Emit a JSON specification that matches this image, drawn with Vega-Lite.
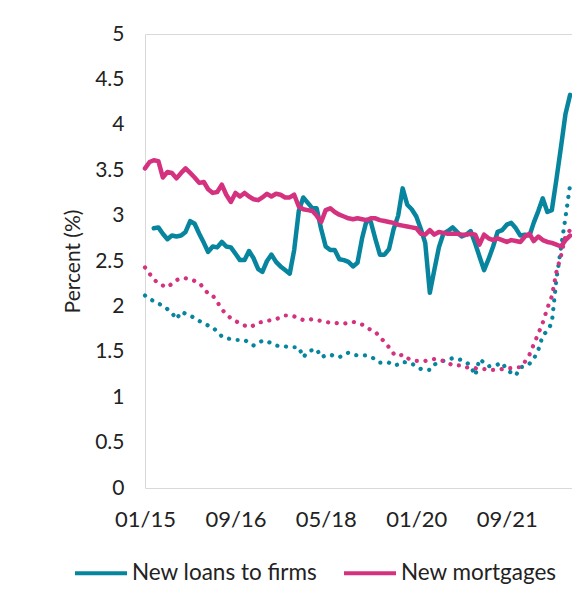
{
  "$schema": "https://vega.github.io/schema/vega-lite/v6.json",
  "width": 430,
  "height": 454,
  "autosize": {"type": "none"},
  "padding": {"left": 145, "top": 34, "right": 0, "bottom": 125},
  "background": "white",
  "config": {"font": "Lato", "view": {"stroke": "#d9d9d9", "strokeWidth": 1}},
  "datasets": {
    "firms": [
      {"date":"2015-03-01","value":2.86},{"date":"2015-04-01","value":2.87},{"date":"2015-05-01","value":2.80},{"date":"2015-06-01","value":2.74},{"date":"2015-07-01","value":2.78},{"date":"2015-08-01","value":2.77},{"date":"2015-09-01","value":2.78},{"date":"2015-10-01","value":2.82},{"date":"2015-11-01","value":2.94},{"date":"2015-12-01","value":2.91},
      {"date":"2016-01-01","value":2.80},{"date":"2016-02-01","value":2.70},{"date":"2016-03-01","value":2.60},{"date":"2016-04-01","value":2.66},{"date":"2016-05-01","value":2.65},{"date":"2016-06-01","value":2.71},{"date":"2016-07-01","value":2.66},{"date":"2016-08-01","value":2.65},{"date":"2016-09-01","value":2.58},{"date":"2016-10-01","value":2.51},{"date":"2016-11-01","value":2.51},{"date":"2016-12-01","value":2.61},
      {"date":"2017-01-01","value":2.53},{"date":"2017-02-01","value":2.41},{"date":"2017-03-01","value":2.38},{"date":"2017-04-01","value":2.50},{"date":"2017-05-01","value":2.57},{"date":"2017-06-01","value":2.49},{"date":"2017-07-01","value":2.44},{"date":"2017-08-01","value":2.40},{"date":"2017-09-01","value":2.36},{"date":"2017-10-01","value":2.62},{"date":"2017-11-01","value":3.05},{"date":"2017-12-01","value":3.20},
      {"date":"2018-01-01","value":3.14},{"date":"2018-02-01","value":3.08},{"date":"2018-03-01","value":3.08},{"date":"2018-04-01","value":2.85},{"date":"2018-05-01","value":2.66},{"date":"2018-06-01","value":2.62},{"date":"2018-07-01","value":2.62},{"date":"2018-08-01","value":2.52},{"date":"2018-09-01","value":2.51},{"date":"2018-10-01","value":2.49},{"date":"2018-11-01","value":2.44},{"date":"2018-12-01","value":2.48},
      {"date":"2019-01-01","value":2.75},{"date":"2019-02-01","value":2.95},{"date":"2019-03-01","value":2.93},{"date":"2019-04-01","value":2.74},{"date":"2019-05-01","value":2.57},{"date":"2019-06-01","value":2.57},{"date":"2019-07-01","value":2.63},{"date":"2019-08-01","value":2.85},{"date":"2019-09-01","value":3.00},{"date":"2019-10-01","value":3.30},{"date":"2019-11-01","value":3.12},{"date":"2019-12-01","value":3.07},
      {"date":"2020-01-01","value":2.99},{"date":"2020-02-01","value":2.85},{"date":"2020-03-01","value":2.70},{"date":"2020-04-01","value":2.15},{"date":"2020-05-01","value":2.40},{"date":"2020-06-01","value":2.65},{"date":"2020-07-01","value":2.80},{"date":"2020-08-01","value":2.83},{"date":"2020-09-01","value":2.87},{"date":"2020-10-01","value":2.82},{"date":"2020-11-01","value":2.77},{"date":"2020-12-01","value":2.79},
      {"date":"2021-01-01","value":2.83},{"date":"2021-02-01","value":2.69},{"date":"2021-03-01","value":2.55},{"date":"2021-04-01","value":2.40},{"date":"2021-05-01","value":2.52},{"date":"2021-06-01","value":2.66},{"date":"2021-07-01","value":2.82},{"date":"2021-08-01","value":2.84},{"date":"2021-09-01","value":2.90},{"date":"2021-10-01","value":2.92},{"date":"2021-11-01","value":2.86},{"date":"2021-12-01","value":2.78},
      {"date":"2022-01-01","value":2.79},{"date":"2022-02-01","value":2.78},{"date":"2022-03-01","value":2.92},{"date":"2022-04-01","value":3.05},{"date":"2022-05-01","value":3.19},{"date":"2022-06-01","value":3.04},{"date":"2022-07-01","value":3.06},{"date":"2022-08-01","value":3.40},{"date":"2022-09-01","value":3.76},{"date":"2022-10-01","value":4.12},{"date":"2022-11-01","value":4.33}
    ],
    "mortgages": [
      {"date":"2015-01-01","value":3.52},{"date":"2015-02-01","value":3.59},{"date":"2015-03-01","value":3.61},{"date":"2015-04-01","value":3.60},{"date":"2015-05-01","value":3.42},{"date":"2015-06-01","value":3.48},{"date":"2015-07-01","value":3.47},{"date":"2015-08-01","value":3.41},{"date":"2015-09-01","value":3.47},{"date":"2015-10-01","value":3.52},{"date":"2015-11-01","value":3.47},{"date":"2015-12-01","value":3.42},
      {"date":"2016-01-01","value":3.36},{"date":"2016-02-01","value":3.37},{"date":"2016-03-01","value":3.29},{"date":"2016-04-01","value":3.25},{"date":"2016-05-01","value":3.26},{"date":"2016-06-01","value":3.34},{"date":"2016-07-01","value":3.23},{"date":"2016-08-01","value":3.15},{"date":"2016-09-01","value":3.25},{"date":"2016-10-01","value":3.21},{"date":"2016-11-01","value":3.25},{"date":"2016-12-01","value":3.21},
      {"date":"2017-01-01","value":3.18},{"date":"2017-02-01","value":3.17},{"date":"2017-03-01","value":3.20},{"date":"2017-04-01","value":3.24},{"date":"2017-05-01","value":3.21},{"date":"2017-06-01","value":3.24},{"date":"2017-07-01","value":3.23},{"date":"2017-08-01","value":3.20},{"date":"2017-09-01","value":3.20},{"date":"2017-10-01","value":3.23},{"date":"2017-11-01","value":3.10},{"date":"2017-12-01","value":3.07},
      {"date":"2018-01-01","value":3.06},{"date":"2018-02-01","value":3.05},{"date":"2018-03-01","value":3.00},{"date":"2018-04-01","value":2.93},{"date":"2018-05-01","value":3.06},{"date":"2018-06-01","value":3.08},{"date":"2018-07-01","value":3.04},{"date":"2018-08-01","value":3.01},{"date":"2018-09-01","value":2.99},{"date":"2018-10-01","value":2.97},{"date":"2018-11-01","value":2.96},{"date":"2018-12-01","value":2.97},
      {"date":"2019-01-01","value":2.96},{"date":"2019-02-01","value":2.95},{"date":"2019-03-01","value":2.97},{"date":"2019-04-01","value":2.97},{"date":"2019-05-01","value":2.95},{"date":"2019-06-01","value":2.94},{"date":"2019-07-01","value":2.93},{"date":"2019-08-01","value":2.92},{"date":"2019-09-01","value":2.90},{"date":"2019-10-01","value":2.89},{"date":"2019-11-01","value":2.88},{"date":"2019-12-01","value":2.87},
      {"date":"2020-01-01","value":2.86},{"date":"2020-02-01","value":2.80},{"date":"2020-03-01","value":2.79},{"date":"2020-04-01","value":2.84},{"date":"2020-05-01","value":2.79},{"date":"2020-06-01","value":2.82},{"date":"2020-07-01","value":2.81},{"date":"2020-08-01","value":2.80},{"date":"2020-09-01","value":2.80},{"date":"2020-10-01","value":2.80},{"date":"2020-11-01","value":2.79},{"date":"2020-12-01","value":2.79},
      {"date":"2021-01-01","value":2.80},{"date":"2021-02-01","value":2.79},{"date":"2021-03-01","value":2.68},{"date":"2021-04-01","value":2.79},{"date":"2021-05-01","value":2.75},{"date":"2021-06-01","value":2.73},{"date":"2021-07-01","value":2.75},{"date":"2021-08-01","value":2.73},{"date":"2021-09-01","value":2.71},{"date":"2021-10-01","value":2.73},{"date":"2021-11-01","value":2.72},{"date":"2021-12-01","value":2.71},
      {"date":"2022-01-01","value":2.77},{"date":"2022-02-01","value":2.80},{"date":"2022-03-01","value":2.72},{"date":"2022-04-01","value":2.77},{"date":"2022-05-01","value":2.73},{"date":"2022-06-01","value":2.71},{"date":"2022-07-01","value":2.70},{"date":"2022-08-01","value":2.68},{"date":"2022-09-01","value":2.66},{"date":"2022-10-01","value":2.73},{"date":"2022-11-01","value":2.78}
    ],
    "firms_dotted": [
      {"date":"2015-01-01","value":2.12},{"date":"2015-02-01","value":2.08},{"date":"2015-03-01","value":2.06},{"date":"2015-04-01","value":2.03},{"date":"2015-05-01","value":2.01},{"date":"2015-06-01","value":1.97},{"date":"2015-07-01","value":1.93},{"date":"2015-08-01","value":1.86},{"date":"2015-09-01","value":1.94},{"date":"2015-10-01","value":1.92},{"date":"2015-11-01","value":1.90},{"date":"2015-12-01","value":1.87},
      {"date":"2016-01-01","value":1.84},{"date":"2016-02-01","value":1.81},{"date":"2016-03-01","value":1.79},{"date":"2016-04-01","value":1.77},{"date":"2016-05-01","value":1.72},{"date":"2016-06-01","value":1.67},{"date":"2016-07-01","value":1.65},{"date":"2016-08-01","value":1.64},{"date":"2016-09-01","value":1.63},{"date":"2016-10-01","value":1.63},{"date":"2016-11-01","value":1.63},{"date":"2016-12-01","value":1.60},
      {"date":"2017-01-01","value":1.57},{"date":"2017-02-01","value":1.60},{"date":"2017-03-01","value":1.62},{"date":"2017-04-01","value":1.62},{"date":"2017-05-01","value":1.59},{"date":"2017-06-01","value":1.57},{"date":"2017-07-01","value":1.56},{"date":"2017-08-01","value":1.56},{"date":"2017-09-01","value":1.55},{"date":"2017-10-01","value":1.55},{"date":"2017-11-01","value":1.55},{"date":"2017-12-01","value":1.44},
      {"date":"2018-01-01","value":1.50},{"date":"2018-02-01","value":1.52},{"date":"2018-03-01","value":1.53},{"date":"2018-04-01","value":1.44},{"date":"2018-05-01","value":1.46},{"date":"2018-06-01","value":1.47},{"date":"2018-07-01","value":1.45},{"date":"2018-08-01","value":1.44},{"date":"2018-09-01","value":1.47},{"date":"2018-10-01","value":1.49},{"date":"2018-11-01","value":1.47},{"date":"2018-12-01","value":1.46},
      {"date":"2019-01-01","value":1.46},{"date":"2019-02-01","value":1.46},{"date":"2019-03-01","value":1.44},{"date":"2019-04-01","value":1.42},{"date":"2019-05-01","value":1.38},{"date":"2019-06-01","value":1.38},{"date":"2019-07-01","value":1.38},{"date":"2019-08-01","value":1.35},{"date":"2019-09-01","value":1.36},{"date":"2019-10-01","value":1.39},{"date":"2019-11-01","value":1.38},{"date":"2019-12-01","value":1.37},
      {"date":"2020-01-01","value":1.34},{"date":"2020-02-01","value":1.31},{"date":"2020-03-01","value":1.31},{"date":"2020-04-01","value":1.30},{"date":"2020-05-01","value":1.36},{"date":"2020-06-01","value":1.38},{"date":"2020-07-01","value":1.40},{"date":"2020-08-01","value":1.41},{"date":"2020-09-01","value":1.43},{"date":"2020-10-01","value":1.42},{"date":"2020-11-01","value":1.41},{"date":"2020-12-01","value":1.39},
      {"date":"2021-01-01","value":1.34},{"date":"2021-02-01","value":1.24},{"date":"2021-03-01","value":1.42},{"date":"2021-04-01","value":1.38},{"date":"2021-05-01","value":1.34},{"date":"2021-06-01","value":1.35},{"date":"2021-07-01","value":1.36},{"date":"2021-08-01","value":1.38},{"date":"2021-09-01","value":1.30},{"date":"2021-10-01","value":1.27},{"date":"2021-11-01","value":1.24},{"date":"2021-12-01","value":1.33},
      {"date":"2022-01-01","value":1.34},{"date":"2022-02-01","value":1.37},{"date":"2022-03-01","value":1.42},{"date":"2022-04-01","value":1.52},{"date":"2022-05-01","value":1.68},{"date":"2022-06-01","value":1.73},{"date":"2022-07-01","value":1.82},{"date":"2022-08-01","value":2.30},{"date":"2022-09-01","value":2.65},{"date":"2022-10-01","value":2.98},{"date":"2022-11-01","value":3.34}
    ],
    "mortgages_dotted": [
      {"date":"2015-01-01","value":2.43},{"date":"2015-02-01","value":2.36},{"date":"2015-03-01","value":2.30},{"date":"2015-04-01","value":2.25},{"date":"2015-05-01","value":2.23},{"date":"2015-06-01","value":2.21},{"date":"2015-07-01","value":2.25},{"date":"2015-08-01","value":2.29},{"date":"2015-09-01","value":2.31},{"date":"2015-10-01","value":2.31},{"date":"2015-11-01","value":2.30},{"date":"2015-12-01","value":2.28},
      {"date":"2016-01-01","value":2.26},{"date":"2016-02-01","value":2.20},{"date":"2016-03-01","value":2.14},{"date":"2016-04-01","value":2.12},{"date":"2016-05-01","value":2.05},{"date":"2016-06-01","value":1.97},{"date":"2016-07-01","value":1.91},{"date":"2016-08-01","value":1.87},{"date":"2016-09-01","value":1.84},{"date":"2016-10-01","value":1.81},{"date":"2016-11-01","value":1.79},{"date":"2016-12-01","value":1.77},
      {"date":"2017-01-01","value":1.79},{"date":"2017-02-01","value":1.82},{"date":"2017-03-01","value":1.83},{"date":"2017-04-01","value":1.84},{"date":"2017-05-01","value":1.85},{"date":"2017-06-01","value":1.86},{"date":"2017-07-01","value":1.88},{"date":"2017-08-01","value":1.90},{"date":"2017-09-01","value":1.90},{"date":"2017-10-01","value":1.89},{"date":"2017-11-01","value":1.87},{"date":"2017-12-01","value":1.85},
      {"date":"2018-01-01","value":1.85},{"date":"2018-02-01","value":1.86},{"date":"2018-03-01","value":1.85},{"date":"2018-04-01","value":1.84},{"date":"2018-05-01","value":1.83},{"date":"2018-06-01","value":1.82},{"date":"2018-07-01","value":1.82},{"date":"2018-08-01","value":1.81},{"date":"2018-09-01","value":1.81},{"date":"2018-10-01","value":1.82},{"date":"2018-11-01","value":1.83},{"date":"2018-12-01","value":1.82},
      {"date":"2019-01-01","value":1.80},{"date":"2019-02-01","value":1.77},{"date":"2019-03-01","value":1.74},{"date":"2019-04-01","value":1.72},{"date":"2019-05-01","value":1.66},{"date":"2019-06-01","value":1.61},{"date":"2019-07-01","value":1.55},{"date":"2019-08-01","value":1.48},{"date":"2019-09-01","value":1.45},{"date":"2019-10-01","value":1.47},{"date":"2019-11-01","value":1.43},{"date":"2019-12-01","value":1.41},
      {"date":"2020-01-01","value":1.40},{"date":"2020-02-01","value":1.40},{"date":"2020-03-01","value":1.40},{"date":"2020-04-01","value":1.41},{"date":"2020-05-01","value":1.42},{"date":"2020-06-01","value":1.41},{"date":"2020-07-01","value":1.40},{"date":"2020-08-01","value":1.38},{"date":"2020-09-01","value":1.35},{"date":"2020-10-01","value":1.35},{"date":"2020-11-01","value":1.35},{"date":"2020-12-01","value":1.33},
      {"date":"2021-01-01","value":1.32},{"date":"2021-02-01","value":1.32},{"date":"2021-03-01","value":1.31},{"date":"2021-04-01","value":1.31},{"date":"2021-05-01","value":1.30},{"date":"2021-06-01","value":1.30},{"date":"2021-07-01","value":1.30},{"date":"2021-08-01","value":1.31},{"date":"2021-09-01","value":1.32},{"date":"2021-10-01","value":1.32},{"date":"2021-11-01","value":1.33},{"date":"2021-12-01","value":1.33},
      {"date":"2022-01-01","value":1.39},{"date":"2022-02-01","value":1.47},{"date":"2022-03-01","value":1.58},{"date":"2022-04-01","value":1.70},{"date":"2022-05-01","value":1.82},{"date":"2022-06-01","value":1.98},{"date":"2022-07-01","value":2.11},{"date":"2022-08-01","value":2.38},{"date":"2022-09-01","value":2.56},{"date":"2022-10-01","value":2.78},{"date":"2022-11-01","value":2.84}
    ]
  },
  "encoding": {
    "x": {
      "field": "date",
      "type": "temporal",
      "scale": {"type": "utc", "domain": [{"year": 2015, "month": 1, "date": 1, "utc": true}, {"year": 2022, "month": 12, "date": 4, "utc": true}]},
      "axis": {
        "title": null,
        "values": [
          {"year": 2015, "month": 1, "date": 1, "utc": true},
          {"year": 2016, "month": 9, "date": 1, "utc": true},
          {"year": 2018, "month": 5, "date": 1, "utc": true},
          {"year": 2020, "month": 1, "date": 1, "utc": true},
          {"year": 2021, "month": 9, "date": 1, "utc": true}
        ],
        "labelExpr": "utcFormat(datum.value, '%m/%y')",
        "grid": false,
        "domain": false,
        "ticks": false,
        "labelFontSize": 22,
        "labelColor": "#222222",
        "labelPadding": 21,
        "labelFlush": false,
        "labelOverlap": false
      }
    },
    "y": {
      "field": "value",
      "type": "quantitative",
      "scale": {"domain": [0, 5], "nice": false, "zero": true},
      "axis": {
        "title": "Percent (%)",
        "values": [0, 0.5, 1, 1.5, 2, 2.5, 3, 3.5, 4, 4.5, 5],
        "format": "~g",
        "grid": false,
        "domain": false,
        "ticks": false,
        "labelFontSize": 21,
        "labelColor": "#222222",
        "labelPadding": 21,
        "labelOverlap": false,
        "titleFontSize": 21,
        "titleFontWeight": "normal",
        "titleColor": "#222222",
        "titlePadding": 11
      }
    }
  },
  "layer": [
    {
      "data": {"name": "firms_dotted"},
      "mark": {"type": "line", "color": "#07859F", "strokeWidth": 4.2, "strokeDash": [0.1, 8.6], "strokeCap": "round"}
    },
    {
      "data": {"name": "mortgages_dotted"},
      "mark": {"type": "line", "color": "#D4317F", "strokeWidth": 4.2, "strokeDash": [0.1, 8.6], "strokeCap": "round"}
    },
    {
      "data": {"name": "firms"},
      "mark": {"type": "line", "strokeWidth": 4.5, "strokeJoin": "round", "strokeCap": "round"},
      "encoding": {
        "color": {
          "datum": "New loans to firms",
          "scale": {"domain": ["New loans to firms", "New mortgages"], "range": ["#07859F", "#D4317F"]},
          "legend": {
            "orient": "none",
            "legendX": -72,
            "legendY": 511,
            "direction": "horizontal",
            "title": null,
            "symbolType": "stroke",
            "symbolSize": 2704,
            "symbolStrokeWidth": 4,
            "labelFontSize": 22.5,
            "labelColor": "#222222",
            "labelOffset": 3,
            "labelLimit": 0,
            "columnPadding": 18
          }
        }
      }
    },
    {
      "data": {"name": "mortgages"},
      "mark": {"type": "line", "strokeWidth": 4.5, "strokeJoin": "round", "strokeCap": "round"},
      "encoding": {
        "color": {"datum": "New mortgages"}
      }
    }
  ]
}
